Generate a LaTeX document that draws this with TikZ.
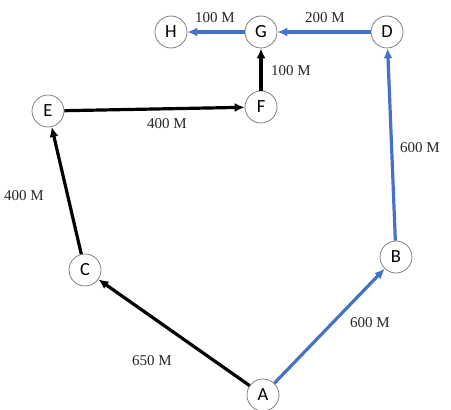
\documentclass[tikz,border=0pt]{standalone}
\usepackage{fontspec}
\setmainfont{Liberation Serif}
\newfontfamily\nodefont{Carlito}
\usetikzlibrary{arrows.meta}
\definecolor{routeblue}{RGB}{68,114,196}
\begin{document}
\begin{tikzpicture}[x=1pt,y=-1pt,
  vertex/.style={circle,draw=black!55,line width=0.7pt,fill=white,minimum size=32pt,inner sep=0pt,font=\nodefont\fontsize{18.5}{18.5}\selectfont},
  path/.style={line width=3.2pt,-{Latex[length=10pt,width=9pt]}},
  blackpath/.style={path,draw=black},
  bluepath/.style={path,draw=routeblue},
  dist/.style={font=\fontsize{15}{15}\selectfont,text=black!85,inner sep=0pt}]
\useasboundingbox (0,0) rectangle (451,410);
% stations
\node[vertex] (H) at (171,32) {H};
\node[vertex] (G) at (261,32) {G};
\node[vertex] (D) at (387,32) {D};
\node[vertex] (F) at (261,107) {F};
\node[vertex] (E) at (48,111) {E};
\node[vertex] (C) at (85,270) {C};
\node[vertex] (B) at (396,257) {B};
\node[vertex] (A) at (263,395) {A};
% western route
\draw[blackpath] (A) -- (C);
\draw[blackpath] (C) -- (E);
\draw[blackpath] (E) -- (F);
\draw[blackpath] (F) -- (G);
% eastern route
\draw[bluepath] (A) -- (B);
\draw[bluepath] (B) -- (D);
\draw[bluepath] (D) -- (G);
\draw[bluepath] (G) -- (H);
% distances
\node[dist] (lGH) at (215,18) {100 M};
\node[dist] (lDG) at (325,18) {200 M};
\node[dist] (lFG) at (291,71) {100 M};
\node[dist] (lEF) at (167,124) {400 M};
\node[dist] (lBD) at (420,148) {600 M};
\node[dist] (lCE) at (24,196) {400 M};
\node[dist] (lAC) at (152,361) {650 M};
\node[dist] (lAB) at (370,323) {600 M};
\end{tikzpicture}
\end{document}
